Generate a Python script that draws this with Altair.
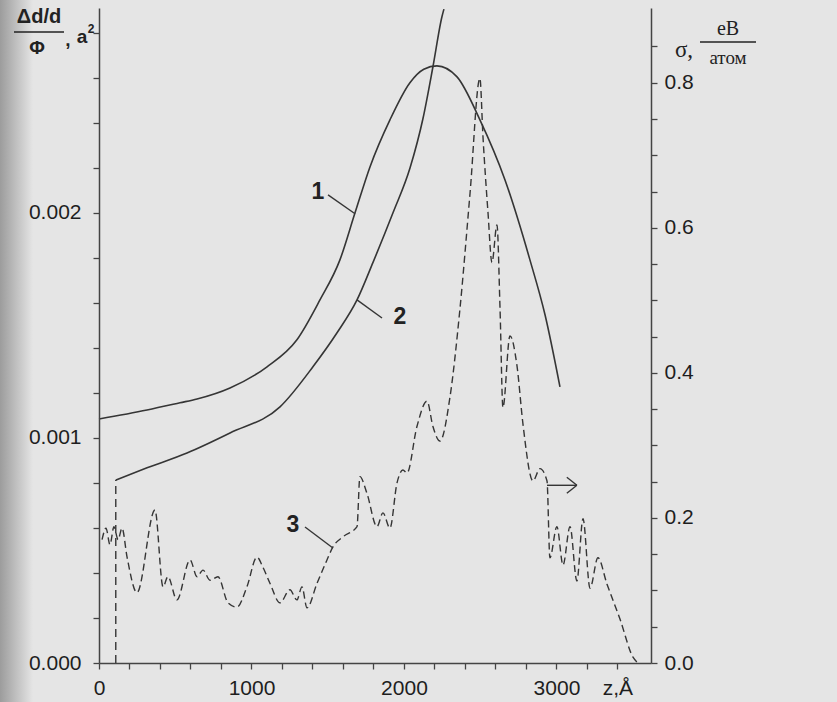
import altair as alt
import pandas as pd

# ---------------- data ----------------
# curve 1 (left axis, x1e-3)
c1_z = [0, 315, 531, 643, 859, 1102, 1298, 1449, 1580, 1679, 1777, 1908, 2039, 2130, 2216,
        2348, 2498, 2662, 2826, 2925, 3023]
c1_v = [1.084, 1.124, 1.156, 1.173, 1.222, 1.316, 1.436, 1.613, 1.791, 2.000, 2.204, 2.413,
        2.578, 2.638, 2.653, 2.604, 2.413, 2.147, 1.791, 1.547, 1.227]
# curve 2 (left axis, x1e-3)
c2_z = [110, 315, 577, 859, 1187, 1403, 1561, 1692, 1797, 1928, 2040, 2125, 2190, 2249, 2262]
c2_v = [0.813, 0.867, 0.933, 1.022, 1.138, 1.316, 1.467, 1.613, 1.780, 2.000, 2.200, 2.420,
        2.649, 2.871, 2.905]
# vertical dashed drop of curve 2
drop_z = [110]
drop_v = [0.813]
# curve 3 (right axis, sigma)
c3_z = [20, 46, 72, 98, 125, 151, 184, 249, 367, 420, 452, 511, 597, 643, 682, 728, 780, 846,
        905, 970, 1036, 1075, 1121, 1187, 1252, 1298, 1331, 1364, 1430, 1495, 1534, 1600, 1692,
        1711, 1757, 1823, 1862, 1908, 1954, 1993, 2020, 2085, 2151, 2190, 2236, 2302, 2367,
        2433, 2498, 2518, 2551, 2577, 2610, 2630, 2649, 2695, 2741, 2780, 2846, 2892, 2938,
        2957, 3003, 3043, 3089, 3134, 3174, 3220, 3272, 3331, 3416, 3502, 3534]
c3_s = [0.170, 0.186, 0.163, 0.188, 0.170, 0.186, 0.146, 0.097, 0.211, 0.105, 0.119, 0.087,
        0.142, 0.119, 0.128, 0.114, 0.119, 0.083, 0.077, 0.105, 0.146, 0.132, 0.110, 0.083,
        0.101, 0.087, 0.105, 0.076, 0.110, 0.142, 0.160, 0.174, 0.188, 0.257, 0.234, 0.188,
        0.207, 0.186, 0.248, 0.266, 0.262, 0.326, 0.361, 0.326, 0.306, 0.367, 0.488, 0.647,
        0.806, 0.726, 0.621, 0.552, 0.604, 0.488, 0.352, 0.451, 0.410, 0.330, 0.251, 0.268,
        0.251, 0.145, 0.188, 0.135, 0.188, 0.113, 0.199, 0.103, 0.145, 0.109, 0.061, 0.008, 0.0]
# curve labels and leader lines (left axis, x1e-3)
lab_txt = ["1", "2", "3"]
lab_z = [1436, 1974, 1272]
lab_v = [2.093, 1.538, 0.613]
lead_z1 = [1502, 1856, 1351]
lead_v1 = [2.080, 1.533, 0.604]
lead_z2 = [1679, 1692, 1534]
lead_v2 = [1.996, 1.613, 0.511]
# arrow (right axis)
arr_z1 = [2938, 3068, 3068]
arr_s1 = [0.245, 0.256, 0.234]
arr_z2 = [3134, 3134, 3134]
arr_s2 = [0.245, 0.245, 0.245]

x_ticks = list(range(0, 3401, 200))
left_ticks = [round(i * 0.0002, 4) for i in range(15)]
right_ticks = [round(i * 0.05, 2) for i in range(18)]

# ---------------- frames ----------------
LINE = "#353535"
df1 = pd.DataFrame({"z": c1_z, "v": [v * 1e-3 for v in c1_v]})
df2 = pd.DataFrame({"z": c2_z, "v": [v * 1e-3 for v in c2_v]})
dfd = pd.DataFrame({"z": drop_z, "v0": [0.0], "v": [v * 1e-3 for v in drop_v]})
df3 = pd.DataFrame({"z": c3_z, "s": c3_s})
dfl = pd.DataFrame({"t": lab_txt, "z": lab_z, "v": [v * 1e-3 for v in lab_v]})
dfle = pd.DataFrame({"z1": lead_z1, "v1": [v * 1e-3 for v in lead_v1],
                     "z2": lead_z2, "v2": [v * 1e-3 for v in lead_v2]})
dfa = pd.DataFrame({"z1": arr_z1, "s1": arr_s1, "z2": arr_z2, "s2": arr_s2})

xs = alt.Scale(domain=[0, 3620], nice=False, zero=False)
ls = alt.Scale(domain=[0, 0.00291], nice=False)
rs = alt.Scale(domain=[0, 0.903], nice=False)

FONT = "Liberation Sans"
common_axis = dict(grid=False, domainColor="#444", domainWidth=1.5, tickColor="#444",
                   tickWidth=1.3, tickSize=6, labelFont=FONT, labelFontSize=21,
                   labelColor="#1e1e1e", title=None, zindex=1)

x_axis = alt.Axis(values=x_ticks, labelPadding=8,
                  labelExpr="datum.value % 1000 == 0 ? format(datum.value, 'd') : (datum.value == 3400 ? 'z,Å' : '')",
                  labelOverlap=False, labelFlush=False, **common_axis)
left_axis = alt.Axis(values=left_ticks, orient="left", labelPadding=12, labelOverlap=False,
                     labelExpr="abs(datum.value*1000 - round(datum.value*1000)) < 1e-6 ? format(datum.value, '.3f') : ''",
                     **common_axis)
right_axis = alt.Axis(values=right_ticks, orient="right", labelPadding=7, labelOverlap=False,
                      labelExpr="abs(datum.value*5 - round(datum.value*5)) < 1e-6 ? format(datum.value, '.1f') : ''",
                      **common_axis)

X = lambda f: alt.X(f, scale=xs, axis=x_axis)

one = pd.DataFrame({"a": [0]})
# left edge shading of the scanned page (drawn first, behind everything)
shade = alt.Chart(one).mark_rect(
    color=alt.LinearGradient(gradient="linear",
                             stops=[alt.GradientStop(color="#9c9c9c", offset=0),
                                    alt.GradientStop(color="#e5e5e5", offset=1)],
                             x1=0, x2=1, y1=0, y2=0)).encode(
    x=alt.value(-99), x2=alt.value(-66), y=alt.value(-8), y2=alt.value(694))

curve1 = alt.Chart(df1).mark_line(color=LINE, strokeWidth=1.6, interpolate="monotone").encode(
    x=X("z:Q"),
    y=alt.Y("v:Q", scale=ls, axis=left_axis))
curve3 = alt.Chart(df3).mark_line(color=LINE, strokeWidth=1.4, strokeDash=[7, 4],
                                  interpolate="monotone").encode(
    x=X("z:Q"),
    y=alt.Y("s:Q", scale=rs, axis=right_axis))
curve2 = alt.Chart(df2).mark_line(color=LINE, strokeWidth=1.6, interpolate="monotone", clip=False).encode(
    x=X("z:Q"),
    y=alt.Y("v:Q", scale=ls, axis=None))
drop = alt.Chart(dfd).mark_rule(color=LINE, strokeWidth=1.4, strokeDash=[8, 5]).encode(
    x=X("z:Q"),
    y=alt.Y("v0:Q", scale=ls, axis=None), y2="v:Q")
labels = alt.Chart(dfl).mark_text(font=FONT, fontSize=23, fontWeight="bold", color="#222").encode(
    x=X("z:Q"),
    y=alt.Y("v:Q", scale=ls, axis=None), text="t:N")
leaders = alt.Chart(dfle).mark_rule(color=LINE, strokeWidth=1.4).encode(
    x=X("z1:Q"), x2="z2:Q",
    y=alt.Y("v1:Q", scale=ls, axis=None), y2="v2:Q")
arrow = alt.Chart(dfa).mark_rule(color=LINE, strokeWidth=1.4).encode(
    x=X("z1:Q"), x2="z2:Q",
    y=alt.Y("s1:Q", scale=rs, axis=None), y2="s2:Q")


def txt(s, px, py, size, font=FONT, weight="normal", align="center"):
    return alt.Chart(one).mark_text(text=s, font=font, fontSize=size, fontWeight=weight,
                                    color="#222", align=align, baseline="middle").encode(
        x=alt.value(px - 99), y=alt.value(py - 8))


def bar(x1, x2, py):
    return alt.Chart(one).mark_rule(color="#222", strokeWidth=1.3).encode(
        x=alt.value(x1 - 99), x2=alt.value(x2 - 99), y=alt.value(py - 8))


titles = [
    txt("Δd/d", 39, 17, 20, weight="bold"),
    bar(14, 64, 32),
    txt("Φ", 37, 48, 19, weight="bold"),
    txt(",", 68, 40, 19, weight="bold"),
    txt("a", 82, 37, 19, weight="bold"),
    txt("2", 91, 29, 12, weight="bold"),
    txt("σ,", 684, 50, 23, font="Liberation Serif"),
    txt("еВ", 728, 29, 20, font="Liberation Serif"),
    bar(700, 756, 42),
    txt("атом", 728, 58, 19, font="Liberation Serif"),
]

chart = alt.layer(shade, curve1, curve3, curve2, drop, labels, leaders, arrow, *titles).resolve_scale(
    y="independent"
).properties(
    width=552, height=655,
    background="#e5e5e5",
    autosize=alt.AutoSizeParams(type="none"),
    padding={"left": 99, "top": 8, "right": 186, "bottom": 39},
).configure_view(stroke=None)

chart.save("out.html", embed_options={"renderer": "svg", "actions": False})
